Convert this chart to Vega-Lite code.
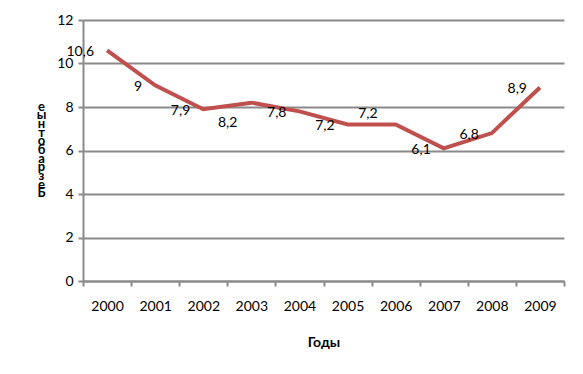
{
  "$schema": "https://vega.github.io/schema/vega-lite/v6.json",
  "autosize": {"type": "none"},
  "width": 481,
  "height": 261,
  "padding": {"left": 83, "top": 20, "right": 19, "bottom": 93},
  "background": "white",
  "config": {
    "view": {"stroke": null},
    "font": "Lato",
    "locale": {"number": {"decimal": ",", "thousands": " ", "grouping": [3], "currency": ["", ""]}}
  },
  "data": {
    "values": [
      {"year": "2000", "value": 10.6},
      {"year": "2001", "value": 9},
      {"year": "2002", "value": 7.9},
      {"year": "2003", "value": 8.2},
      {"year": "2004", "value": 7.8},
      {"year": "2005", "value": 7.2},
      {"year": "2006", "value": 7.2},
      {"year": "2007", "value": 6.1},
      {"year": "2008", "value": 6.8},
      {"year": "2009", "value": 8.9}
    ]
  },
  "encoding": {
    "x": {
      "field": "year", "type": "nominal",
      "scale": {"paddingInner": 0, "paddingOuter": 0},
      "axis": {
        "title": "Годы", "titleFont": "Lato", "titleFontSize": 14, "titleFontWeight": "bold", "titleColor": "#000000", "titlePadding": 22,
        "labelAngle": 0, "labelFont": "Lato", "labelFontSize": 14, "labelColor": "#000000", "labelPadding": 13,
        "tickBand": "extent", "tickSize": 5, "tickColor": "#8a8a8a", "tickWidth": 2,
        "domainColor": "#8a8a8a", "domainWidth": 2, "grid": false
      }
    },
    "y": {
      "field": "value", "type": "quantitative",
      "scale": {"domain": [0, 12], "nice": false},
      "axis": {
        "values": [0, 2, 4, 6, 8, 10, 12],
        "title": ["е", "ы", "н", "т", "о", "б", "а", "р", "з", "е", "Б"],
        "titleAngle": 0, "titleX": -42, "titleY": 86, "titleAlign": "center", "titleBaseline": "middle",
        "titleLineHeight": 8.7, "titleFont": "Lato", "titleFontSize": 13, "titleFontWeight": "bold", "titleColor": "#000000",
        "labelFont": "Lato", "labelFontSize": 14, "labelColor": "#000000", "labelPadding": 5,
        "tickSize": 5, "tickColor": "#8a8a8a", "tickWidth": 2,
        "domainColor": "#8a8a8a", "domainWidth": 2,
        "grid": true, "gridColor": "#8a8a8a", "gridWidth": 2
      }
    }
  },
  "layer": [
    {"mark": {"type": "line", "color": "#c0504d", "strokeWidth": 4, "strokeJoin": "miter"}},
    {
      "transform": [{"filter": "datum.year != '2003' && datum.year != '2006'"}],
      "mark": {"type": "text", "align": "right", "baseline": "middle", "dx": -13, "dy": 2, "fontSize": 14, "font": "Lato", "color": "#000000"},
      "encoding": {"text": {"field": "value", "type": "quantitative", "format": "~g"}}
    },
    {
      "transform": [{"filter": "datum.year == '2003'"}],
      "mark": {"type": "text", "align": "right", "baseline": "middle", "dx": -14, "dy": 20, "fontSize": 14, "font": "Lato", "color": "#000000"},
      "encoding": {"text": {"field": "value", "type": "quantitative", "format": "~g"}}
    },
    {
      "transform": [{"filter": "datum.year == '2006'"}],
      "mark": {"type": "text", "align": "right", "baseline": "middle", "dx": -18, "dy": -10, "fontSize": 14, "font": "Lato", "color": "#000000"},
      "encoding": {"text": {"field": "value", "type": "quantitative", "format": "~g"}}
    }
  ]
}
